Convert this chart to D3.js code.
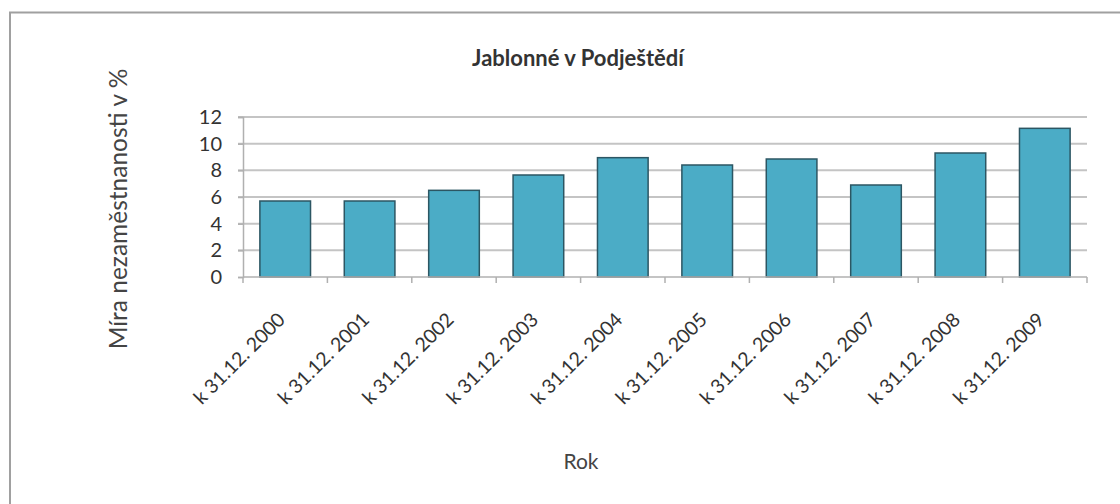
<!DOCTYPE html>
<html><head><meta charset="utf-8">
<script src="https://cdn.jsdelivr.net/npm/d3@7"></script>
<style>body{margin:0;background:#fff;} svg{display:block;}</style>
</head><body><svg id="c" width="1120" height="504"></svg>
<script>
const categories = ["k 31.12. 2000","k 31.12. 2001","k 31.12. 2002","k 31.12. 2003","k 31.12. 2004","k 31.12. 2005","k 31.12. 2006","k 31.12. 2007","k 31.12. 2008","k 31.12. 2009"];
const values = [5.7, 5.7, 6.5, 7.65, 8.95, 8.4, 8.85, 6.9, 9.3, 11.15];
const yTicks = [0, 2, 4, 6, 8, 10, 12];
const title = "Jablonné v Podještědí";
const yTitle = "Míra nezaměstnanosti v %";
const xTitle = "Rok";

const font = "Lato, 'Open Sans', sans-serif";
const svg = d3.select("#c");
svg.append("rect").attr("x",10).attr("y",12.5).attr("width",1130).attr("height",510)
  .attr("fill","#fff").attr("stroke","#a0a0a0").attr("stroke-width",2);

const L=243, R=1087, T=117, B=277;
const x = d3.scaleBand().domain(categories).range([L,R]).paddingInner(0.4).paddingOuter(0.2);
const y = d3.scaleLinear().domain([0,12]).range([B,T]);

// gridlines
svg.append("g").selectAll("line").data(yTicks.filter(d=>d>0)).join("line")
  .attr("x1",L-5).attr("x2",R).attr("y1",d=>y(d)).attr("y2",d=>y(d))
  .attr("stroke","#c4c4c4").attr("stroke-width",2);

// y axis
const ya = svg.append("g").attr("transform",`translate(${L},0)`)
  .call(d3.axisLeft(y).tickValues(yTicks).tickSize(5).tickPadding(16));
ya.select(".domain").attr("stroke","#b0b0b0").attr("stroke-width",1.5);
ya.selectAll(".tick line").attr("stroke","#b0b0b0").attr("stroke-width",1.5);
ya.selectAll("text").attr("font-family",font).attr("font-size",20).attr("fill","#333");

// bars
svg.append("g").selectAll("rect").data(values).join("rect")
  .attr("x",(d,i)=>x(categories[i])).attr("width",x.bandwidth())
  .attr("y",d=>y(d)).attr("height",d=>B-y(d))
  .attr("fill","#4bacc6").attr("stroke","#2c5663").attr("stroke-width",1.5);

// x axis
const bounds = d3.range(categories.length+1).map(i=>L+i*(R-L)/categories.length);
const xa = svg.append("g");
xa.append("line").attr("x1",L).attr("x2",R).attr("y1",B).attr("y2",B)
  .attr("stroke","#b0b0b0").attr("stroke-width",1.5);
xa.selectAll("line.t").data(bounds).join("line").attr("class","t")
  .attr("x1",d=>d).attr("x2",d=>d).attr("y1",B).attr("y2",B+6)
  .attr("stroke","#b0b0b0").attr("stroke-width",1.5);
xa.selectAll("text").data(categories).join("text")
  .attr("transform",d=>`translate(${x(d)+x.bandwidth()/2+1},${B+44}) rotate(-45)`)
  .attr("text-anchor","end").attr("font-family",font).attr("font-size",19.5).attr("fill","#333")
  .text(d=>d);

// titles
svg.append("text").attr("x",578).attr("y",66).attr("text-anchor","middle")
  .attr("font-family",font).attr("font-weight","bold").attr("font-size",22).attr("fill","#333").text(title);
svg.append("text").attr("transform","translate(127,209) rotate(-90)").attr("text-anchor","middle")
  .attr("font-family",font).attr("font-size",24.5).attr("fill","#444").text(yTitle);
svg.append("text").attr("x",581).attr("y",469).attr("text-anchor","middle")
  .attr("font-family",font).attr("font-size",21).attr("fill","#444").text(xTitle);
</script></body></html>
